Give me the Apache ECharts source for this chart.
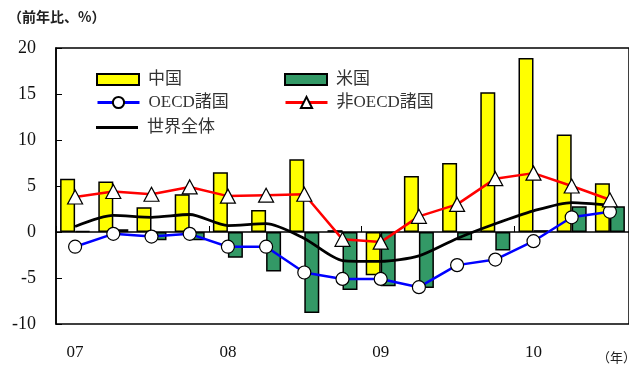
<!DOCTYPE html>
<html>
<head>
<meta charset="utf-8">
<script src="https://cdn.jsdelivr.net/npm/echarts@6/dist/echarts.min.js"></script>
<style>
  html, body { margin: 0; padding: 0; background: #fff; }
  #chart { width: 629px; height: 367px; }
</style>
</head>
<body>
<div id="chart"></div>
<script>
// Quarterly, year-on-year % change
const quarters = [
  '2007Q1','2007Q2','2007Q3','2007Q4',
  '2008Q1','2008Q2','2008Q3','2008Q4',
  '2009Q1','2009Q2','2009Q3','2009Q4',
  '2010Q1','2010Q2','2010Q3'
];
const china   = [5.8, 5.5, 2.7, 4.1, 6.5, 2.4, 7.9, 0.2, -4.7, 6.1, 7.5, 15.2, 18.9, 10.6, 5.3];
const usa     = [0.1, 0.3, -0.9, -0.9, -2.8, -4.3, -8.8, -6.3, -5.9, -6.1, -0.9, -2.0, 0.2, 2.8, 2.8];
const oecd    = [-1.6, -0.2, -0.5, -0.2, -1.6, -1.6, -4.4, -5.1, -5.1, -6.0, -3.6, -3.0, -1.0, 1.6, 2.2];
const nonOecd = [3.8, 4.4, 4.1, 4.9, 3.9, 4.0, 4.1, -0.8, -1.1, 1.7, 3.0, 5.8, 6.4, 5.0, 3.5];
const world   = [0.6, 1.8, 1.6, 1.9, 0.7, 0.9, -0.7, -3.1, -3.2, -2.6, -0.7, 0.9, 2.3, 3.2, 2.9];
const yTicks  = { min: -10, max: 20, interval: 5 };

const serif = '"Liberation Serif", "Times New Roman", "Noto Sans CJK JP", serif';
const chart = echarts.init(document.getElementById('chart'), null, { renderer: 'canvas' });

// one legend block per entry so each sits at its own place in the 2-column key
function legendAt(name, left, top, w, h, icon) {
  const item = icon ? { name: name, icon: icon } : { name: name };
  return {
    data: [item], left: left, top: top, orient: 'horizontal',
    itemWidth: w, itemHeight: h, itemGap: 0, padding: 0,
    lineStyle: { width: 3 },
    textStyle: { fontFamily: serif, fontSize: 17, color: '#333', padding: [0, 0, 0, 4] },
    selectedMode: false
  };
}

chart.setOption({
  animation: false,
  backgroundColor: '#fff',
  graphic: [
    { type: 'text', left: 8, top: 10,
      style: { text: '（前年比、%）', font: 'bold 14px "Noto Sans CJK JP"', fill: '#222' } },
    { type: 'text', left: 597, top: 351,
      style: { text: '（年）', font: '13px "Noto Sans CJK JP"', fill: '#222' } }
  ],
  legend: [
    legendAt('中国', 96, 71, 42, 11, 'rect'),
    legendAt('米国', 284, 71, 42, 11, 'rect'),
    legendAt('OECD諸国', 96, 94, 42, 14),
    legendAt('非OECD諸国', 284, 94, 42, 14),
    legendAt('世界全体', 96, 119, 42, 14, 'path://M0,6 L42,6 L42,9 L0,9 Z')
  ],
  grid: {
    left: 56, top: 48, width: 574.5, height: 276,
    show: true, borderColor: '#000', borderWidth: 1.5, backgroundColor: 'transparent'
  },
  xAxis: [
    {
      type: 'category', data: quarters, position: 'bottom',
      axisLine: { show: false, onZero: false },
      axisTick: { show: false },
      axisLabel: {
        interval: 3, margin: 20, fontFamily: serif, fontSize: 17, color: '#111',
        formatter: v => v.slice(2, 4)
      }
    },
    {
      type: 'category', data: quarters, position: 'bottom',
      axisLine: { show: true, onZero: true, lineStyle: { color: '#000', width: 1.5 } },
      axisTick: { show: true, inside: true, interval: 3, length: 6, lineStyle: { color: '#000', width: 1 } },
      axisLabel: { show: false }
    }
  ],
  yAxis: {
    type: 'value', min: yTicks.min, max: yTicks.max, interval: yTicks.interval,
    axisLine: { show: true, lineStyle: { color: '#000', width: 1.5 } },
    axisTick: { show: true, inside: true, length: 6, lineStyle: { color: '#000' } },
    splitLine: { show: false },
    axisLabel: { margin: 20, fontFamily: serif, fontSize: 18, color: '#111' }
  },
  series: [
    {
      name: '中国', type: 'bar', data: china, barWidth: 15, barGap: '0%',
      itemStyle: { color: '#FFFF00', borderColor: '#000', borderWidth: 1.5 }
    },
    {
      name: '米国', type: 'bar', data: usa, barWidth: 15, barGap: '0%',
      itemStyle: { color: '#339966', borderColor: '#000', borderWidth: 1.5 }
    },
    {
      name: 'OECD諸国', type: 'line', data: oecd,
      symbol: 'circle', symbolSize: 13,
      lineStyle: { color: '#0000FF', width: 2.5 },
      itemStyle: { color: '#fff', borderColor: '#000', borderWidth: 1.2 }
    },
    {
      name: '非OECD諸国', type: 'line', data: nonOecd,
      symbol: 'triangle', symbolSize: [15, 14],
      lineStyle: { color: '#FF0000', width: 2.5 },
      itemStyle: { color: '#fff', borderColor: '#000', borderWidth: 1.2 }
    },
    {
      name: '世界全体', type: 'line', data: world, smooth: 0.25,
      symbol: 'none',
      lineStyle: { color: '#000', width: 2.8 },
      itemStyle: { color: '#000' }
    }
  ]
});
</script>
</body>
</html>
